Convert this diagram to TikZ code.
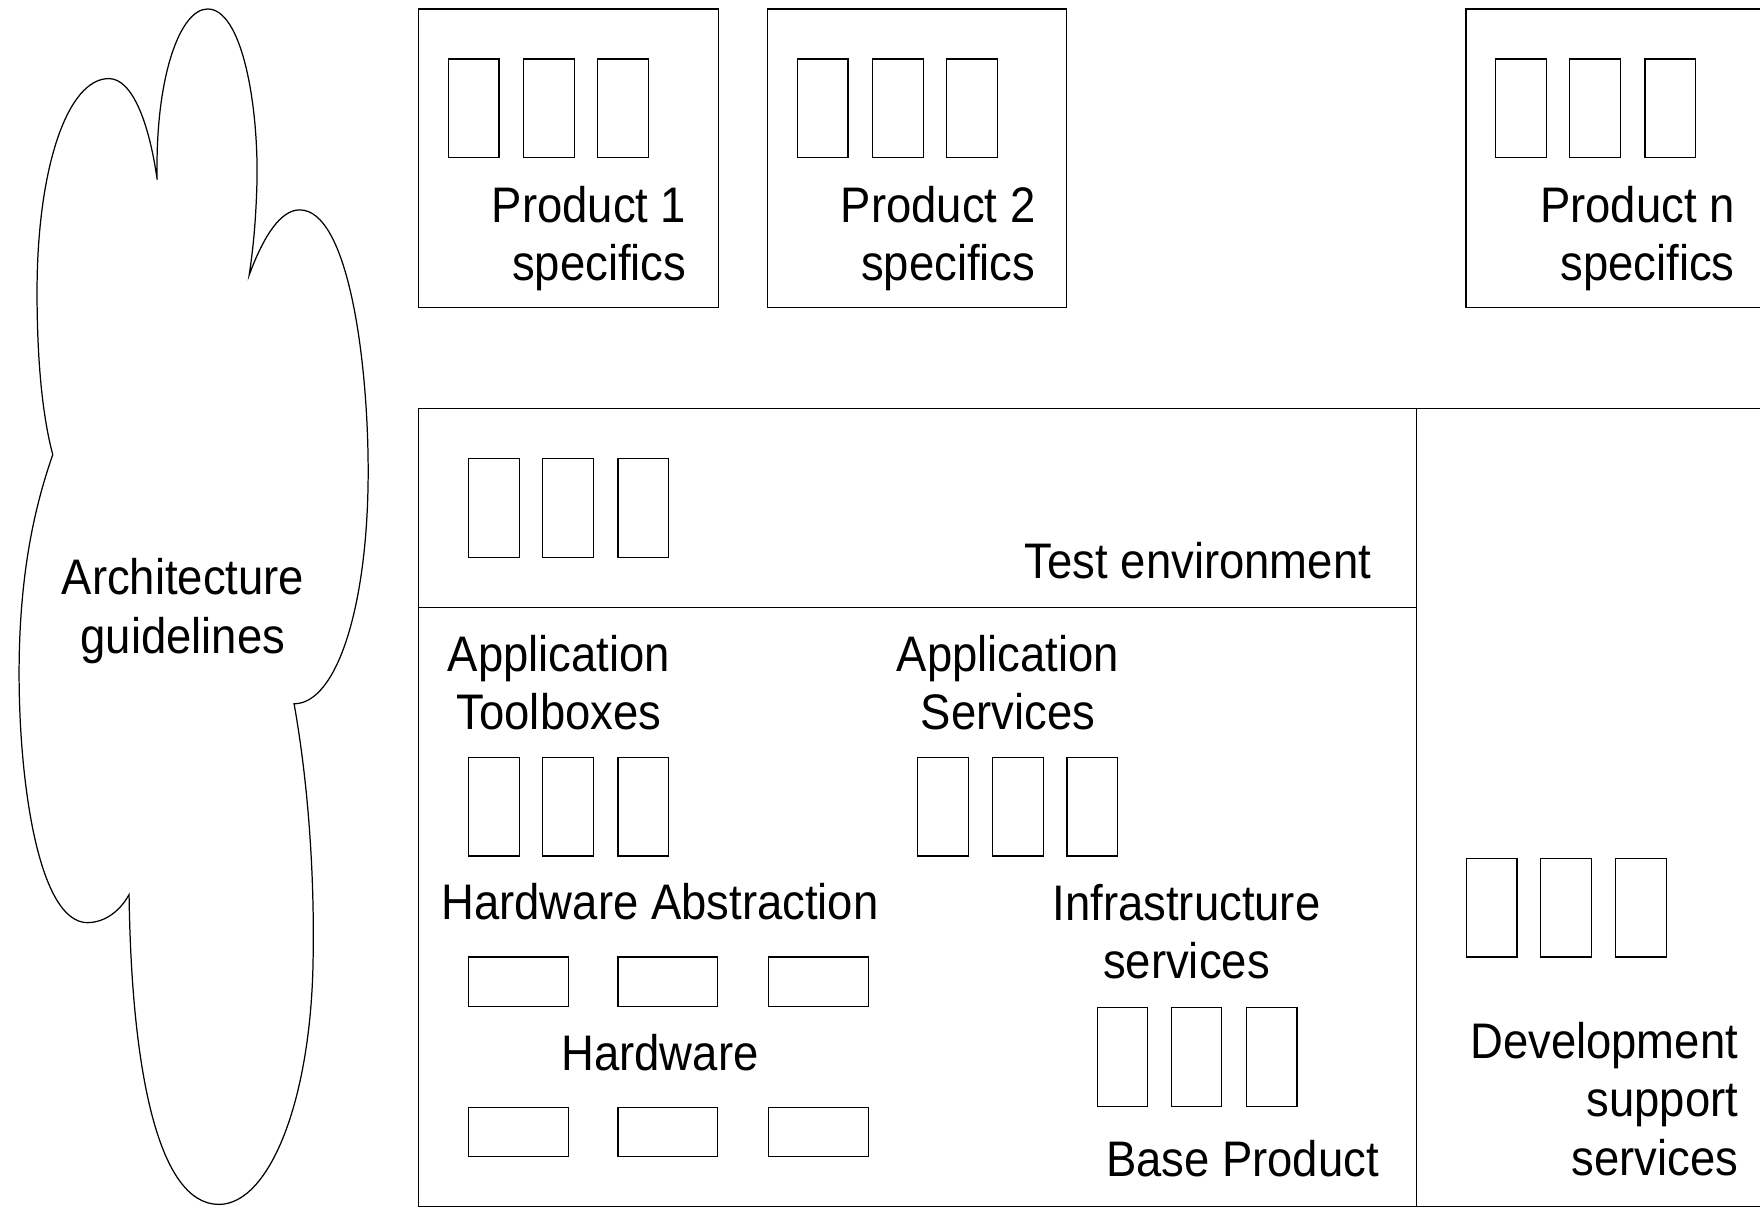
\documentclass[tikz,border=0pt]{standalone}
\usepackage{fontspec}
\setmainfont{Liberation Sans}[FakeStretch=0.91]
\begin{document}
\begin{tikzpicture}[x=1pt,y=-1pt, line width=1.1pt,
  lbl/.style={font=\fontsize{44.5}{52}\selectfont, inner sep=0pt},
  vbx/.style={draw, rectangle, minimum width=45pt, minimum height=88pt, anchor=north west, inner sep=0pt},
  hbx/.style={draw, rectangle, minimum width=89pt, minimum height=44pt, anchor=north west, inner sep=0pt}]
\clip (0,0) rectangle (1568,1077);
\fill[white] (0,0) rectangle (1568,1077);
% cloud
\draw (140,160) .. controls (138,70) and (160,8) .. (185,8)
  .. controls (215,8) and (230,90) .. (229,160)
  .. controls (228,200) and (225,225) .. (222,245)
  .. controls (235,210) and (250,187) .. (267,187)
  .. controls (310,187) and (328,320) .. (328,420)
  .. controls (328,540) and (300,627) .. (262,627)
  .. controls (275,700) and (280,780) .. (279,850)
  .. controls (278,980) and (240,1073) .. (195,1073)
  .. controls (140,1073) and (117,950) .. (115,797)
  .. controls (105,815) and (90,822) .. (78,822)
  .. controls (35,822) and (17,700) .. (17,600)
  .. controls (17,500) and (35,440) .. (47,405)
  .. controls (35,360) and (33,300) .. (33,260)
  .. controls (33,150) and (60,70) .. (97,70)
  .. controls (118,70) and (133,110) .. (140,160) -- cycle;
\node[lbl, align=center, anchor=base] (arch) at (163,582) {Architecture\\guidelines};
% product frames
\draw (373,8) rectangle (640,274);
\draw (684,8) rectangle (950,274);
\draw (1306,8) rectangle (1620,274);
\node[vbx] (p1a) at (399,52) {};
\node[vbx] (p1b) at (466,52) {};
\node[vbx] (p1c) at (532,52) {};
\node[vbx] (p2a) at (710,52) {};
\node[vbx] (p2b) at (777,52) {};
\node[vbx] (p2c) at (843,52) {};
\node[vbx] (pna) at (1332,52) {};
\node[vbx] (pnb) at (1398,52) {};
\node[vbx] (pnc) at (1465,52) {};
\node[lbl, align=right, anchor=base east] (p1t) at (612,250) {Product 1\\specifics};
\node[lbl, align=right, anchor=base east] (p2t) at (923,250) {Product 2\\specifics};
\node[lbl, align=right, anchor=base east] (pnt) at (1546,250) {Product n\\specifics};
% base product frame
\draw (373,364) rectangle (1262,1075);
\draw (373,541) -- (1262,541);
\draw (1262,364) -- (1620,364);
\draw (1262,1075) -- (1620,1075);
% test environment
\node[vbx] (t1) at (417,408) {};
\node[vbx] (t2) at (483,408) {};
\node[vbx] (t3) at (550,408) {};
\node[lbl, anchor=base east] (tt) at (1222,515) {Test environment};
% application toolboxes
\node[lbl, align=center, anchor=base] (att) at (498,650) {Application\\Toolboxes};
\node[vbx] (a1) at (417,674) {};
\node[vbx] (a2) at (483,674) {};
\node[vbx] (a3) at (550,674) {};
% application services
\node[lbl, align=center, anchor=base] (ast) at (898,650) {Application\\Services};
\node[vbx] (s1) at (817,674) {};
\node[vbx] (s2) at (884,674) {};
\node[vbx] (s3) at (950,674) {};
% hardware abstraction
\node[lbl, anchor=base] (hat) at (588,819) {Hardware Abstraction};
\node[hbx] (ha1) at (417,852) {};
\node[hbx] (ha2) at (550,852) {};
\node[hbx] (ha3) at (684,852) {};
% hardware
\node[lbl, anchor=base] (hwt) at (588,954) {Hardware};
\node[hbx] (hw1) at (417,986) {};
\node[hbx] (hw2) at (550,986) {};
\node[hbx] (hw3) at (684,986) {};
% infrastructure
\node[lbl, align=center, anchor=base] (ist) at (1057,872) {Infrastructure\\services};
\node[vbx] (i1) at (977,897) {};
\node[vbx] (i2) at (1043,897) {};
\node[vbx] (i3) at (1110,897) {};
\node[lbl, anchor=base east] (bpt) at (1229,1048) {Base Product};
% development support
\node[vbx] (d1) at (1306,764) {};
\node[vbx] (d2) at (1372,764) {};
\node[vbx] (d3) at (1439,764) {};
\node[lbl, align=right, anchor=base east] (dst) at (1549,1047) {Development\\support\\services};
\end{tikzpicture}
\end{document}
